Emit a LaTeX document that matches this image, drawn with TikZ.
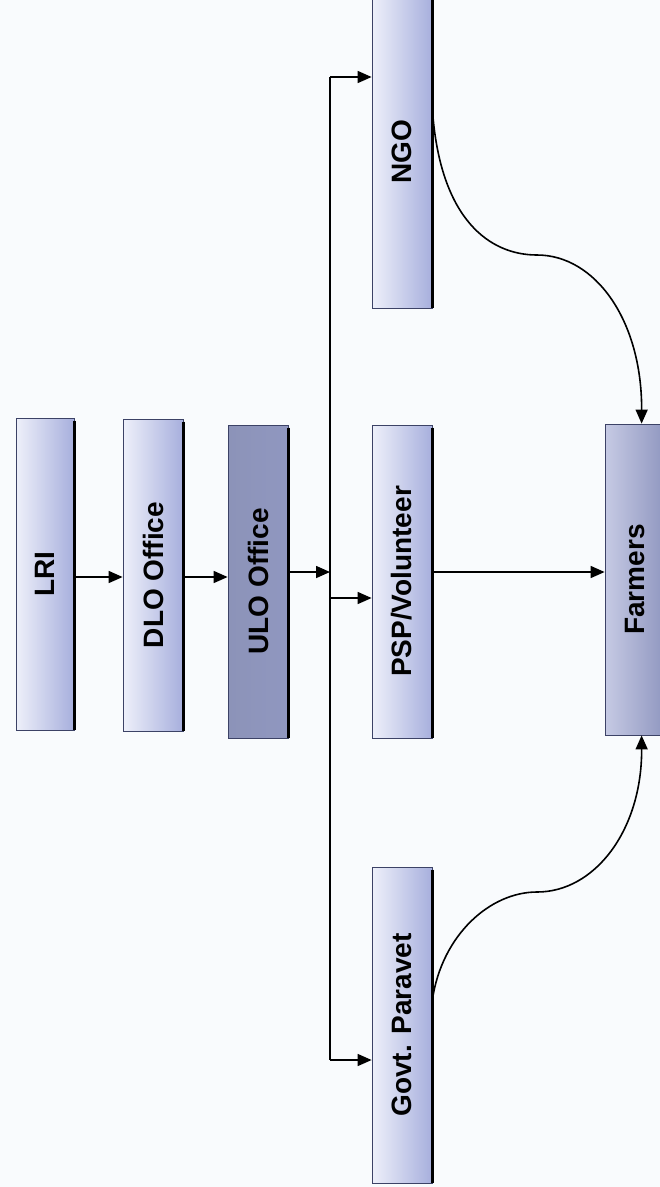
\documentclass[tikz,border=0pt]{standalone}
\usepackage{fontspec}
\setmainfont{Liberation Sans}
\usepackage{graphicx}
\usetikzlibrary{arrows.meta,calc}
\definecolor{bg}{HTML}{F9FBFD}
\definecolor{lightL}{HTML}{EEF0FA}
\definecolor{lightR}{HTML}{A7AFDD}
\definecolor{darkL}{HTML}{8C93B8}
\definecolor{darkM}{HTML}{C6CAE4}
\definecolor{darkR}{HTML}{9097C0}
\definecolor{edge}{HTML}{3C4266}
\tikzset{
  box/.style={draw=edge, line width=0.8pt, inner sep=0pt,
    font=\fontsize{28}{30}\selectfont\bfseries},
  lightbox/.style={box, left color=lightL, right color=lightR},
  darkbox/.style={box, left color=darkL, middle color=darkM, right color=darkR},
  midbox/.style={box, left color=darkM, right color=darkR},
  shadowline/.style={line width=3pt, black},
  conn/.style={line width=1.6pt, black},
  arr/.style={conn, -{Triangle[length=14pt,width=12pt]}}
}
\begin{document}
\begin{tikzpicture}[x=1pt,y=-1pt]
\fill[bg] (0,0) rectangle (660,1187);
\useasboundingbox (0,0) rectangle (660,1187);

\node[lightbox, minimum width=58pt, minimum height=312pt] (lri) at (45,574) {\rotatebox{90}{LRI}};
\node[lightbox, minimum width=60pt, minimum height=312pt] (dlo) at (153,575) {\rotatebox{90}{DLO Office}};
\node[darkbox, minimum width=60pt, minimum height=313pt] (ulo) at (258,581.5) {\rotatebox{90}{ULO Office}};
\node[lightbox, minimum width=60pt, minimum height=313pt] (psp) at (402,581.5) {\rotatebox{90}{PSP/Volunteer}};
\node[lightbox, minimum width=60pt, minimum height=313pt] (ngo) at (402,151.5) {\rotatebox{90}{NGO}};
\node[lightbox, minimum width=60pt, minimum height=316pt] (govt) at (402,1025) {\rotatebox{90}{Govt. Paravet}};
\node[midbox, minimum width=60pt, minimum height=311pt] (farm) at (635,579.5) {\rotatebox{90}{Farmers}};

\foreach \n in {lri,dlo,ulo,psp,ngo,govt,farm}
  \draw[shadowline] ([yshift=-3pt]\n.north east) -- (\n.south east);

% chain
\draw[arr] ([yshift=-3pt]lri.east) -- ([yshift=-3pt]lri.east -| dlo.west);
\draw[arr] ([yshift=-2pt]dlo.east) -- ([yshift=-2pt]dlo.east -| ulo.west);

% distribution bus
\coordinate (bustop) at (330,77);
\coordinate (busbot) at (330,1060);
\draw[conn] (bustop) -- (busbot);
\draw[arr] (bustop) -- (bustop -| ngo.west);
\draw[arr] (busbot) -- (busbot -| govt.west);
\coordinate (uloout) at ([yshift=9.5pt]ulo.east);
\draw[arr] (uloout) -- (uloout -| bustop);
\coordinate (pspin) at ([yshift=-16.5pt]psp.west);
\draw[arr] (pspin -| bustop) -- (pspin);

% to farmers
\coordinate (pspout) at ([yshift=9.5pt]psp.east);
\draw[arr] (pspout) -- (pspout -| farm.west);
\coordinate (ngoout) at ([yshift=-115pt]ngo.north east);
\coordinate (farmtop) at ([xshift=37pt]farm.north west);
\draw[arr] (ngoout) .. controls (440,220) and (490,255) .. (537,255)
  .. controls (595,255) and (642,320) .. (farmtop);
\coordinate (govtout) at ([yshift=-133pt]govt.north east);
\coordinate (farmbot) at ([xshift=37pt]farm.south west);
\draw[arr] (govtout) .. controls (442,935) and (490,892) .. (537,892)
  .. controls (595,892) and (642,830) .. (farmbot);
\end{tikzpicture}
\end{document}
